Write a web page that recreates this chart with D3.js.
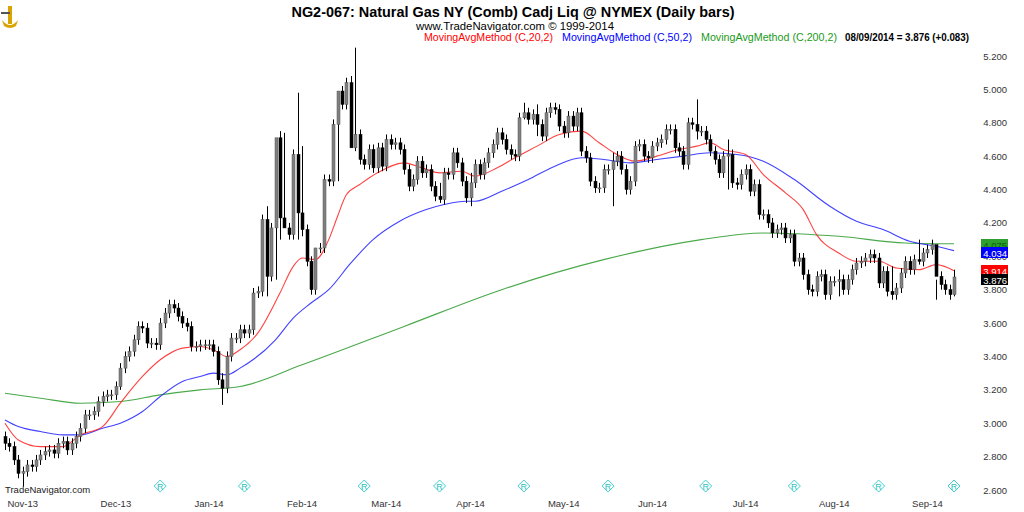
<!DOCTYPE html>
<html><head><meta charset="utf-8">
<script src="https://cdn.jsdelivr.net/npm/d3@7"></script>
<style>body{margin:0;background:#fff}svg{display:block;font-family:"Liberation Sans",Arial,sans-serif}</style>
</head><body><svg id="c" width="1024" height="512"></svg>
<script>
const closes=[2.88,2.86,2.78,2.70,2.71,2.75,2.74,2.78,2.81,2.83,2.84,2.82,2.88,2.89,2.84,2.88,2.92,2.97,3.05,3.05,3.07,3.13,3.16,3.17,3.17,3.22,3.33,3.40,3.43,3.50,3.58,3.57,3.48,3.48,3.47,3.60,3.66,3.71,3.69,3.64,3.60,3.58,3.46,3.46,3.47,3.47,3.47,3.43,3.26,3.21,3.40,3.51,3.51,3.56,
3.54,3.56,3.78,3.79,4.22,3.88,4.17,4.71,4.23,4.17,4.13,4.61,4.26,4.16,3.97,3.80,4.05,4.05,4.46,4.45,4.79,4.99,4.91,5.04,4.65,4.73,4.58,4.55,4.64,4.53,4.65,4.54,4.70,4.67,4.68,4.64,4.52,4.42,4.46,4.57,4.50,4.52,4.42,4.36,4.34,4.50,4.49,4.62,4.56,4.45,4.35,4.44,
4.55,4.49,4.56,4.62,4.67,4.74,4.70,4.64,4.61,4.60,4.83,4.86,4.82,4.85,4.79,4.72,4.86,4.89,4.88,4.78,4.74,4.84,4.78,4.86,4.63,4.59,4.45,4.41,4.41,4.52,4.52,4.57,4.60,4.52,4.40,4.45,4.66,4.67,4.60,4.59,4.66,4.68,4.70,4.76,4.76,4.65,4.63,4.55,4.80,4.79,4.75,4.75,4.70,4.63,4.58,4.50,
4.60,4.61,4.44,4.43,4.49,4.52,4.39,4.43,4.25,4.25,4.20,4.14,4.16,4.17,4.11,4.13,3.97,3.99,3.89,3.80,3.79,3.88,3.89,3.77,3.85,3.85,3.86,3.80,3.86,3.92,3.96,3.97,3.99,4.01,3.99,3.84,3.91,3.79,3.77,3.81,3.90,3.97,3.92,3.98,3.97,4.02,4.04,4.07,3.88,3.83,3.80,3.77,3.876];
const firstOpen=2.92;
// wick overrides: bar index -> [high, low]
const wickOverrides={0:[2.95,2.84],4:[2.74,2.62],26:[3.36,3.20],49:[3.30,3.11],59:[4.30,3.76],61:[4.26,3.86],62:[4.75,4.10],63:[4.74,4.20],66:[4.98,4.10],67:[4.66,4.12],70:[3.98,3.77],75:[4.84,4.45],78:[5.08,4.82],79:[5.25,4.63],98:[4.44,4.32],105:[4.50,4.30],117:[4.92,4.82],120:[4.91,4.72],137:[4.62,4.30],156:[4.94,4.70],163:[4.70,4.40],188:[3.92,3.76],200:[3.94,3.74],206:[4.10,3.95],210:[3.86,3.74],214:[3.92,3.76]};
const defaultWick=0.03;
const ma20=[[0,3.00],[3,2.90],[8,2.86],[13,2.86],[17,2.93],[22,2.98],[26,3.12],[31,3.28],[35,3.38],[40,3.45],[44,3.46],[47,3.44],[50,3.40],[53,3.44],[57,3.54],[62,3.78],[65,3.94],[67,3.99],[70,3.98],[73,4.10],[75,4.24],[77,4.37],[80,4.43],[84,4.50],[90,4.56],[94,4.53],[98,4.50],[103,4.51],[106,4.48],[111,4.53],[115,4.59],[120,4.66],[125,4.73],[130,4.75],[134,4.68],[138,4.61],[142,4.57],[147,4.60],[152,4.64],[156,4.66],[159,4.68],[162,4.64],[167,4.61],[171,4.49],[176,4.38],[180,4.28],[183,4.13],[188,4.02],[192,3.97],[197,3.97],[201,3.93],[206,3.92],[210,3.95],[214,3.914]];
const ma50=[[0,3.02],[3,2.98],[8,2.95],[13,2.93],[17,2.93],[22,2.97],[26,3.00],[31,3.07],[35,3.16],[40,3.25],[44,3.28],[47,3.30],[50,3.29],[53,3.33],[61,3.50],[65,3.63],[69,3.72],[73,3.80],[78,3.96],[83,4.10],[89,4.21],[95,4.28],[99,4.31],[104,4.33],[106,4.33],[112,4.39],[118,4.46],[124,4.54],[130,4.59],[135,4.58],[141,4.56],[147,4.58],[153,4.60],[159,4.62],[165,4.61],[171,4.57],[178,4.46],[186,4.30],[192,4.21],[198,4.16],[204,4.09],[210,4.06],[214,4.034]];
const ma200=[[0,3.18],[8,3.15],[17,3.12],[26,3.13],[35,3.17],[44,3.20],[53,3.22],[67,3.35],[90,3.58],[112,3.80],[135,3.98],[157,4.10],[171,4.14],[188,4.12],[203,4.08],[214,4.075]];
const yTicks=[2.6,2.8,3.0,3.2,3.4,3.6,3.8,4.0,4.2,4.4,4.6,4.8,5.0,5.2];
const monthLabels=["Nov-13","Dec-13","Jan-14","Feb-14","Mar-14","Apr-14","May-14","Jun-14","Jul-14","Aug-14","Sep-14"];
const monthLabelIdx=[4,25,46,67,86,105,126,146,167,187,208];
const eventIdx=[35,54,81,98,117,136,158,178,197,214];
const lastValues=[{v:"4.075",c:"#2e9e2e",t:"#0b5e0b"},{v:"4.034",c:"#0000ff",t:"#fff"},{v:"3.914",c:"#ff0000",t:"#fff"},{v:"3.876",c:"#000",t:"#fff"}];

const svg=d3.select("#c");
const x=d3.scaleLinear().domain([0,214]).range([5,954]);
const y=d3.scaleLinear().domain([2.6,5.2]).range([490,56]);
const bars=closes.map((c,i)=>{const o=i?closes[i-1]:firstOpen;const w=wickOverrides[i];
 return {i,o,c,h:w?w[0]:Math.max(o,c)+defaultWick,l:w?w[1]:Math.min(o,c)-defaultWick};});

svg.append("text").attr("x",513).attr("y",17).attr("text-anchor","middle").attr("font-size",15).attr("font-weight","bold").attr("textLength",443).attr("lengthAdjust","spacingAndGlyphs").text("NG2-067:  Natural Gas NY (Comb) Cadj Liq @ NYMEX  (Daily bars)");
svg.append("text").attr("x",515).attr("y",30).attr("text-anchor","middle").attr("font-size",11).attr("textLength",198).attr("lengthAdjust","spacingAndGlyphs").text("www.TradeNavigator.com © 1999-2014");
const leg=[["MovingAvgMethod (C,20,2)","#ff0000",424,129],["MovingAvgMethod (C,50,2)","#0000ff",562,130],["MovingAvgMethod (C,200,2)","#1a9a1a",701,136],["08/09/2014 = 3.876 (+0.083)","#000",845,124]];
leg.forEach(d=>svg.append("text").attr("x",d[2]).attr("y",41).attr("font-size",10).attr("fill",d[1]).attr("textLength",d[3]).attr("lengthAdjust","spacingAndGlyphs").attr("font-weight",d[1]=="#000"?"bold":"normal").text(d[0]));
const lg=svg.append("g").attr("fill","#d9a400");
lg.append("rect").attr("x",8).attr("y",6).attr("width",4).attr("height",18);
lg.append("path").attr("d","M2 20 Q10 30 18 20 L16 26 Q10 30 4 26Z");
lg.append("rect").attr("x",1).attr("y",12).attr("width",9).attr("height",2).attr("fill","#555");

const ax=svg.append("g");
yTicks.forEach(t=>{ax.append("text").attr("x",1007).attr("y",y(t)+3.5).attr("text-anchor","end").attr("font-size",9.5).attr("fill","#333").text(t.toFixed(3));});
const line=d3.line().x(d=>x(d[0])).y(d=>y(d[1])).curve(d3.curveMonotoneX);
[[ma200,"#2a9a2a"],[ma50,"#2020ff"],[ma20,"#ff2020"]].forEach(m=>svg.append("path").attr("d",line(m[0])).attr("fill","none").attr("stroke",m[1]).attr("stroke-width",1.1).attr("opacity",0.85));
const g=svg.append("g");
bars.forEach(b=>{const up=b.c>=b.o;const cx=Math.round(x(b.i))+0.5;
 g.append("line").attr("x1",cx).attr("x2",cx).attr("y1",y(b.h)).attr("y2",y(b.l)).attr("stroke","#000").attr("stroke-width",1);
 const top=y(Math.max(b.o,b.c)),bot=y(Math.min(b.o,b.c));
 g.append("rect").attr("x",cx-1.5).attr("y",top).attr("width",3).attr("height",Math.max(1,bot-top)).attr("fill",up?"#808080":"#000").attr("stroke",up?"#555":"#000").attr("stroke-width",0.5);
});
lastValues.forEach((d,k)=>{const yy=[245,253,271,280][k];
 svg.append("rect").attr("x",981).attr("y",yy-6).attr("width",27).attr("height",11).attr("fill",d.c);
 svg.append("text").attr("x",1007).attr("y",yy+3.5).attr("text-anchor","end").attr("font-size",9.5).attr("fill",d.t).text(d.v);});
monthLabels.forEach((m,k)=>svg.append("text").attr("x",x(monthLabelIdx[k])).attr("y",507).attr("text-anchor","middle").attr("font-size",9.5).attr("fill","#333").text(m));
svg.append("text").attr("x",5).attr("y",493).attr("font-size",9.5).attr("fill","#222").text("TradeNavigator.com");
eventIdx.forEach(i=>{const ex=x(i);const e=svg.append("g").attr("transform",`translate(${ex},486)`);
 e.append("path").attr("d","M0 -6 L6 0 L0 6 L-6 0Z").attr("fill","none").attr("stroke","#40d0d0").attr("stroke-width",1);
 e.append("text").attr("y",3.5).attr("text-anchor","middle").attr("font-size",9).attr("fill","#30c0c0").text("R");});
</script></body></html>
